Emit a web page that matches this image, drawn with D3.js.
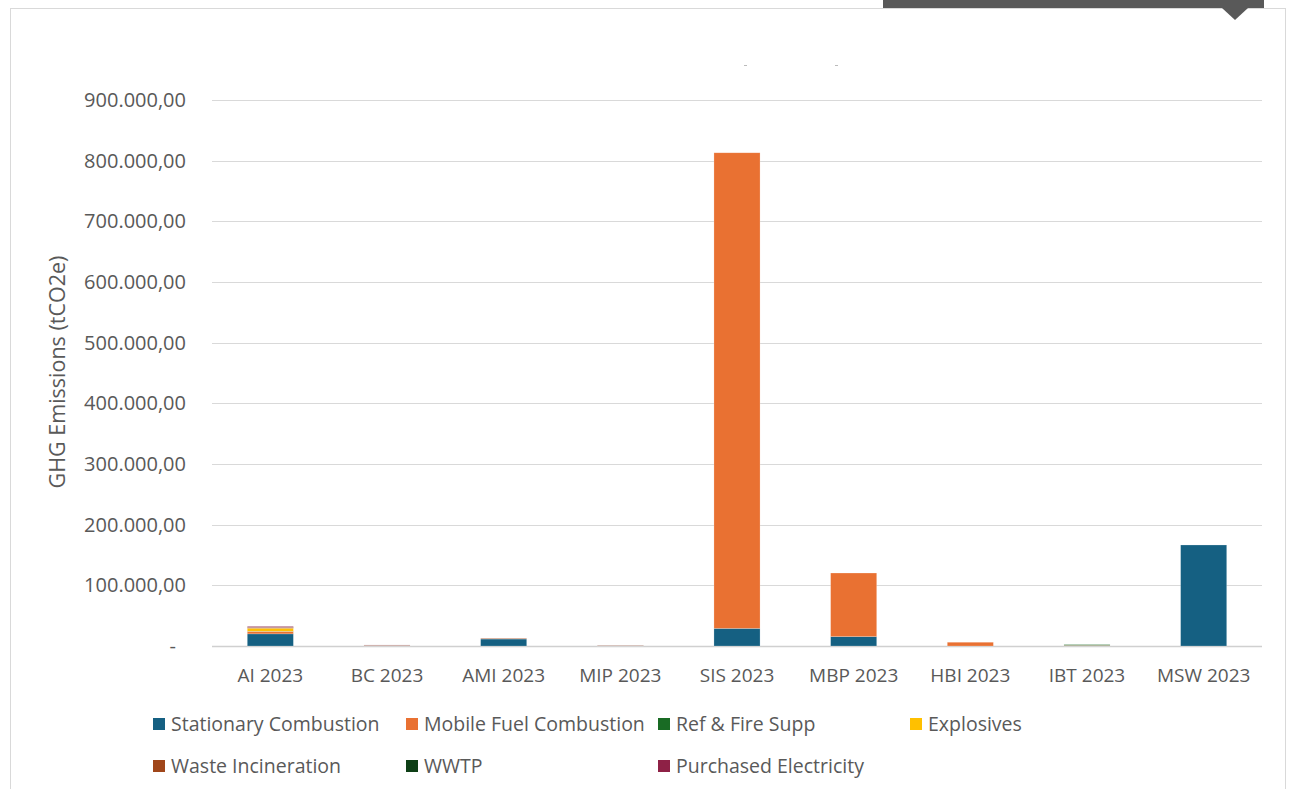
<!DOCTYPE html>
<html>
<head>
<meta charset="utf-8">
<script src="https://cdn.jsdelivr.net/npm/d3@7/dist/d3.min.js"></script>
<style>
  html, body { margin: 0; padding: 0; background: #fff; }
  svg { display: block; }
  text { font-family: "Open Sans", "Noto Sans", sans-serif; fill: #595959; }
</style>
</head>
<body>
<svg id="chart" width="1292" height="789"></svg>
<script>
// ---- Data ----
const categories = ["AI 2023", "BC 2023", "AMI 2023", "MIP 2023", "SIS 2023", "MBP 2023", "HBI 2023", "IBT 2023", "MSW 2023"];
const seriesNames = ["Stationary Combustion", "Mobile Fuel Combustion", "Ref & Fire Supp", "Explosives", "Waste Incineration", "WWTP", "Purchased Electricity"];
const seriesColors = ["#156082", "#E97132", "#196B24", "#FFC000", "#A0461A", "#0E3F16", "#8E2146"];
const stationary  = [20000,  400, 11500,  300,  29000, 15500,      0,  500, 166500];
const mobileFuel  = [ 4000,  400,     0,  300, 784000, 104800,  6200,  600,      0];
const refFire     = [  300,  200,     0,  200,      0,      0,     0, 1200,      0];
const explosives  = [ 5000,    0,     0,    0,      0,      0,     0,    0,      0];
const wasteInc    = [ 1200,  400,  1000,  300,      0,      0,     0,    0,      0];
const wwtp        = [  200,    0,     0,    0,      0,      0,     0,    0,      0];
const purchased   = [ 1500,  300,     0,  200,      0,      0,     0,    0,      0];
const yTicks = [0, 100000, 200000, 300000, 400000, 500000, 600000, 700000, 800000, 900000];
const yTitle = "GHG Emissions (tCO2e)";

const seriesValues = [stationary, mobileFuel, refFire, explosives, wasteInc, wwtp, purchased];
const table = categories.map((c, i) => {
  const row = { cat: c };
  seriesNames.forEach((s, k) => row[s] = seriesValues[k][i]);
  return row;
});

const svg = d3.select("#chart");

// outer frame
svg.append("rect").attr("x", 10.5).attr("y", 8.5).attr("width", 1275).attr("height", 800)
  .attr("fill", "#fff").attr("stroke", "#d9d9d9").attr("stroke-width", 1);

// top-right tab
svg.append("rect").attr("x", 883).attr("y", 0).attr("width", 381).attr("height", 8).attr("fill", "#595959");
svg.append("path").attr("d", "M1222,8 L1248,8 L1235,20 Z").attr("fill", "#595959");

// faint title remnants
svg.append("rect").attr("x", 744).attr("y", 65).attr("width", 3).attr("height", 1).attr("fill", "#bbb");
svg.append("rect").attr("x", 835).attr("y", 65).attr("width", 3).attr("height", 1).attr("fill", "#bbb");

const x = d3.scaleBand().domain(categories).range([212, 1262]).paddingInner(0.605).paddingOuter(0.3025);
const y = d3.scaleLinear().domain([0, 900000]).range([646, 100]);

// gridlines
svg.append("g").selectAll("line").data(yTicks).join("line")
  .attr("x1", 212).attr("x2", 1262)
  .attr("y1", d => Math.round(y(d)) + 0.5).attr("y2", d => Math.round(y(d)) + 0.5)
  .attr("stroke", d => d === 0 ? "#d0d0d0" : "#d9d9d9").attr("stroke-width", d => d === 0 ? 1.5 : 1);

// y axis labels
const fmt = d => d === 0 ? "-" : d3.format(",.2f")(d).replace(/,/g, "#").replace(/\./g, ",").replace(/#/g, ".");
const yAxis = d3.axisLeft(y).tickValues(yTicks).tickSize(0).tickPadding(0).tickFormat(fmt);
const yg = svg.append("g").attr("transform", "translate(186,0)").call(yAxis);
yg.select(".domain").remove();
yg.selectAll("text").attr("font-size", 20).attr("fill", "#595959")
  .attr("font-family", "'Open Sans', sans-serif")
  .attr("dx", d => d === 0 ? -10 : 0);

// stacked bars
const stack = d3.stack().keys(seriesNames);
const layers = stack(table);
const color = d3.scaleOrdinal().domain(seriesNames).range(seriesColors);
svg.append("g").selectAll("g").data(layers).join("g")
  .attr("fill", d => color(d.key))
  .selectAll("rect").data(d => d).join("rect")
  .attr("x", d => x(d.data.cat))
  .attr("width", x.bandwidth())
  .attr("y", d => y(d[1]))
  .attr("height", d => Math.max(0, y(d[0]) - y(d[1])))
  .attr("stroke", "#ffffff").attr("stroke-opacity", 0.35).attr("stroke-width", 0.6);

// x axis labels
const xAxis = d3.axisBottom(x).tickSize(0).tickPadding(0);
const xg = svg.append("g").attr("transform", "translate(0,668)").call(xAxis);
xg.select(".domain").remove();
xg.selectAll("text").attr("font-size", 19).attr("fill", "#595959")
  .attr("font-family", "'Open Sans', sans-serif");

// y title
svg.append("text")
  .attr("transform", "translate(65,372) rotate(-90)")
  .attr("text-anchor", "middle")
  .attr("font-size", 21.5)
  .text(yTitle);

// legend
const legendPos = [[153, 724], [406, 724], [658, 724], [910, 724], [153, 766], [406, 766], [658, 766]];
const lg = svg.append("g").selectAll("g").data(seriesNames).join("g")
  .attr("transform", (d, i) => `translate(${legendPos[i][0]},${legendPos[i][1]})`);
lg.append("rect").attr("x", 0).attr("y", -6).attr("width", 12).attr("height", 12).attr("fill", d => color(d));
lg.append("text").attr("x", 18).attr("y", 0).attr("dy", "0.35em").attr("font-size", 19.5).text(d => d);
</script>
</body>
</html>
